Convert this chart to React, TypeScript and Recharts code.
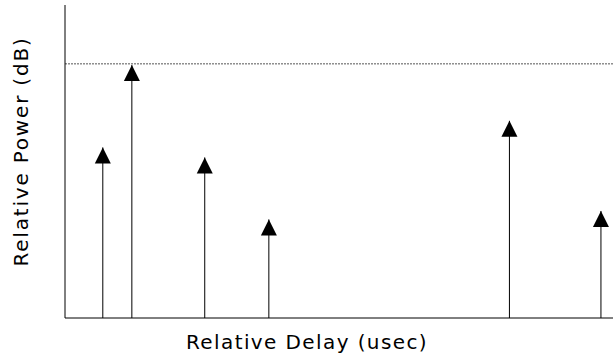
import {
  ComposedChart,
  Scatter,
  XAxis,
  YAxis,
  ReferenceLine,
} from "recharts";

// relative delay (arbitrary units) and relative power of each path
const delays = [6.9, 12.2, 25.5, 37.2, 81.1, 97.8];
const powers = [54.5, 80.8, 51.3, 31.5, 63.0, 34.2];
const refPower = 81.2;

const paths = delays.map((d, i) => ({ delay: d, power: powers[i] }));

const Triangle = (props: any) => {
  const { cx, cy } = props;
  if (cx == null || cy == null) return null;
  return (
    <path
      d={`M${cx},${cy} L${cx + 8},${cy + 16} L${cx - 8},${cy + 16} Z`}
      fill="#000"
    />
  );
};

export default function App() {
  return (
    <div style={{ position: "absolute", left: 0, top: 0, background: "#fff" }}>
      <ComposedChart
        width={613}
        height={362}
        data={paths}
        margin={{ top: 5, right: 0, bottom: 0, left: 0 }}
        style={{ fontFamily: "DejaVu Sans" }}
      >
        <XAxis
          dataKey="delay"
          type="number"
          domain={[0, 100]}
          tick={false}
          tickLine={false}
          height={44}
          axisLine={{ stroke: "#000" }}
          label={{
            value: "Relative Delay (usec)",
            position: "insideBottom",
            offset: 13,
            dx: -32,
            fill: "#000",
            fontSize: 20,
            letterSpacing: 1.4,
          }}
        />
        <YAxis
          type="number"
          domain={[0, 100]}
          tick={false}
          tickLine={false}
          width={65}
          axisLine={{ stroke: "#000" }}
          label={{
            value: "Relative Power (dB)",
            angle: -90,
            position: "insideLeft",
            offset: 21,
            dy: -10,
            fill: "#000",
            fontSize: 20,
            letterSpacing: 1.8,
            style: { textAnchor: "middle" },
          }}
        />
        <ReferenceLine
          y={refPower}
          stroke="#555"
          strokeDasharray="2 1"
          ifOverflow="extendDomain"
        />
        {paths.map((p) => (
          <ReferenceLine
            key={p.delay}
            segment={[
              { x: p.delay, y: 0 },
              { x: p.delay, y: p.power },
            ]}
            stroke="#000"
          />
        ))}
        <Scatter
          dataKey="power"
          shape={<Triangle />}
          isAnimationActive={false}
        />
      </ComposedChart>
    </div>
  );
}
